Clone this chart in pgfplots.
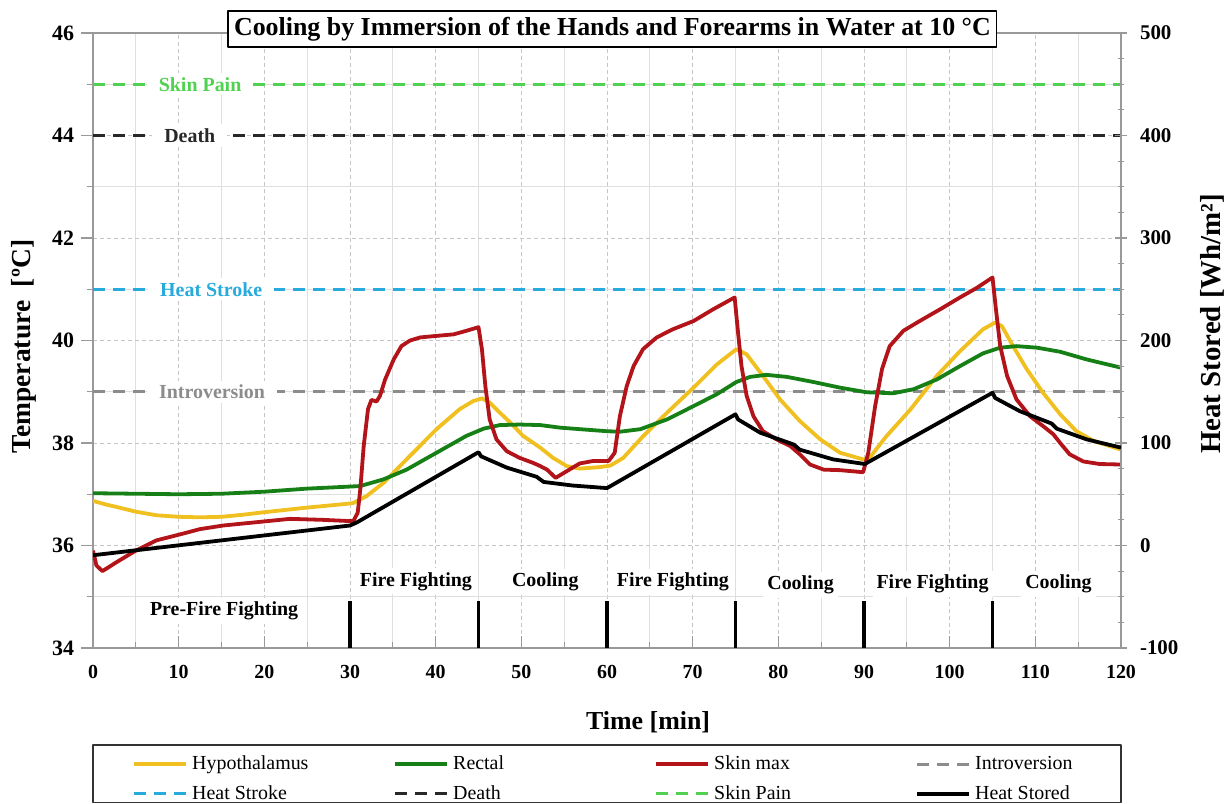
\documentclass[border=0pt]{standalone}
\usepackage{fontspec}
\setmainfont{Liberation Serif}
\usepackage{pgfplots}
\pgfplotsset{compat=1.18}

\definecolor{cHyp}{RGB}{240,192,32}
\definecolor{cRec}{RGB}{22,128,22}
\definecolor{cSkin}{RGB}{178,20,25}
\definecolor{cIntro}{RGB}{140,140,140}
\definecolor{cStroke}{RGB}{40,170,220}
\definecolor{cDeath}{RGB}{40,40,40}
\definecolor{cPain}{RGB}{80,210,80}

\newcommand{\smallbf}{\bfseries\fontsize{10}{12}\selectfont}

\begin{document}
\begin{tikzpicture}
\begin{axis}[
  name=main,
  scale only axis, width=514bp, height=307.5bp,
  xmin=0, xmax=120, ymin=34, ymax=46,
  xtick={0,10,...,120}, minor x tick num=1,
  ytick={34,36,...,46}, minor y tick num=1,
  xtick pos=bottom, ytick pos=left,
  xtick align=inside, ytick align=outside,
  major tick length=6bp, minor tick length=3bp,
  grid=both,
  major grid style={gray!45, line width=0.4bp, dash pattern=on 2bp off 1.5bp},
  minor grid style={gray!25, line width=0.5bp},
  axis line style={gray!80, line width=0.6bp},
  tick style={gray!80, line width=0.6bp},
  /pgf/number format/assume math mode=true,
  xticklabel style={font=\bfseries\fontsize{10}{12}\selectfont, yshift=-5bp},
  yticklabel style={font=\bfseries\fontsize{11}{13}\selectfont},
  xlabel={Time [min]}, ylabel={Temperature~~[ºC]},
  xlabel style={font=\bfseries\fontsize{13}{15}\selectfont, at={(axis description cs:0.54,-0.1203)}, anchor=center},
  ylabel style={font=\bfseries\fontsize{13.8}{16}\selectfont, at={(axis description cs:-0.067,0.49)}, anchor=center},
  clip mode=individual,
  line join=round,
]
% thresholds
\addplot[cPain, line width=1.5bp, dash pattern=on 6bp off 4bp] coordinates {(0,45) (120,45)};
\addplot[cDeath, line width=1.5bp, dash pattern=on 6bp off 4bp] coordinates {(0,44) (120,44)};
\addplot[cStroke, line width=1.5bp, dash pattern=on 6bp off 4bp] coordinates {(0,41) (120,41)};
\addplot[cIntro, line width=1.5bp, dash pattern=on 6bp off 4bp] coordinates {(0,39) (120,39)};

% Hypothalamus
\addplot[cHyp, line width=1.9bp] coordinates {
(0,36.87) (1.5,36.8) (2.8,36.75) (5,36.66) (7.4,36.59) (10,36.56) (12.5,36.55) (15,36.56) (17.5,36.6) (20,36.65) (25,36.74) (28.8,36.8) (30,36.82) (30.4,36.83) (31.9,36.96) (33.9,37.22) (36.6,37.68) (40.1,38.27) (42.8,38.66) (44.4,38.82) (45.4,38.87) (46.3,38.79) (47.5,38.59) (48.7,38.4) (50.2,38.14) (52.2,37.91) (53.7,37.71) (55.3,37.55) (56.8,37.5) (59.2,37.53) (60.4,37.56) (61.9,37.71) (64.2,38.13) (67,38.59) (70.1,39.08) (72.8,39.53) (75.1,39.83) (76.3,39.73) (78.2,39.31) (80.2,38.85) (82.5,38.43) (84.9,38.07) (87.2,37.81) (89.9,37.68) (90.6,37.7) (92.6,38.13) (95.4,38.65) (98.5,39.31) (101.2,39.79) (103.9,40.22) (105.3,40.35) (106.1,40.28) (107.4,39.89) (109,39.44) (110.9,38.98) (112.9,38.56) (114.8,38.23) (116.8,38.04) (120,37.87)
};
% Rectal
\addplot[cRec, line width=1.9bp] coordinates {
(0,37.02) (5,37.01) (10,37.0) (15,37.01) (20,37.05) (25,37.11) (28.8,37.14) (31.2,37.16) (33.9,37.29) (36.6,37.48) (40.1,37.81) (43.6,38.14) (45.6,38.28) (47.5,38.35) (49.8,38.36) (52.2,38.35) (54.5,38.3) (56.8,38.27) (60,38.23) (61.5,38.22) (63.9,38.27) (67,38.46) (70.1,38.72) (72.8,38.95) (75.1,39.19) (76.7,39.29) (78.6,39.33) (81,39.29) (84.1,39.19) (87.2,39.08) (90.3,38.99) (93.4,38.97) (95.8,39.05) (98.5,39.24) (101.2,39.5) (103.9,39.75) (105.9,39.86) (107.8,39.89) (110.2,39.86) (112.9,39.78) (116,39.63) (120,39.47)
};
% Skin max
\addplot[cSkin, line width=1.9bp] coordinates {
(0,35.9) (0.4,35.61) (1.1,35.5) (2.8,35.68) (5,35.9) (7.4,36.1) (10,36.21) (12.5,36.32) (15.2,36.39) (20,36.47) (23,36.52) (26.9,36.5) (29.5,36.48) (30.4,36.48) (30.9,36.64) (31.2,37.09) (31.6,37.94) (32.1,38.66) (32.5,38.84) (33.1,38.81) (33.5,38.92) (34.1,39.24) (35.1,39.63) (36,39.89) (37,40.0) (38.2,40.06) (40.1,40.09) (42.1,40.12) (43.6,40.19) (45,40.26) (45.4,39.83) (45.8,39.11) (46.3,38.46) (47.1,38.07) (48.3,37.84) (49.8,37.71) (51.4,37.61) (52.2,37.55) (53,37.48) (54,37.32) (55.3,37.45) (56.8,37.6) (58.4,37.65) (60.2,37.65) (60.9,37.81) (61.5,38.52) (62.3,39.11) (63.1,39.5) (64.2,39.83) (65.8,40.06) (67.7,40.22) (70.1,40.38) (72.4,40.61) (74.9,40.84) (75.3,40.15) (75.7,39.5) (76.3,38.92) (77.1,38.52) (78.2,38.23) (79.8,38.07) (81.4,37.94) (82.5,37.78) (83.7,37.58) (85.3,37.48) (87.2,37.47) (89.9,37.43) (90.5,37.81) (91.3,38.72) (92.1,39.44) (93,39.89) (94.6,40.19) (96.5,40.38) (98.9,40.61) (101.2,40.84) (103.2,41.03) (105,41.23) (105.4,40.61) (105.9,39.89) (106.7,39.31) (107.8,38.85) (109.4,38.52) (110.9,38.33) (112.1,38.17) (112.9,38.0) (114,37.78) (115.6,37.64) (117.5,37.59) (120,37.58)
};
% phase markers
\addplot[black, line width=1.6bp, unbounded coords=jump] coordinates {
(30,34) (30,34.92) (30,nan) (45,34) (45,34.92) (45,nan) (60,34) (60,34.92) (60,nan)
(75,34) (75,34.92) (75,nan) (90,34) (90,34.92) (90,nan) (105,34) (105,34.92)
};

% threshold labels
\node[fill=white, inner xsep=6bp, inner ysep=2bp, text=cPain, font=\smallbf] at (axis cs:12.5,45) {Skin Pain};
\node[fill=white, inner xsep=6bp, inner ysep=2bp, text=cDeath, font=\smallbf] at (axis cs:11.3,44) {Death};
\node[fill=white, inner xsep=6bp, inner ysep=2bp, text=cStroke, font=\smallbf] at (axis cs:13.8,41) {Heat Stroke};
\node[fill=white, inner xsep=6bp, inner ysep=2bp, text=cIntro, font=\smallbf] at (axis cs:13.9,39) {Introversion};

% phase labels
\node[fill=white, inner sep=2bp, font=\smallbf] at (axis cs:37.7,35.3) {Fire Fighting};
\node[fill=white, inner sep=2bp, font=\smallbf] at (axis cs:52.8,35.29) {Cooling};
\node[fill=white, inner sep=2bp, font=\smallbf] at (axis cs:67.7,35.29) {Fire Fighting};
\node[fill=white, inner sep=2bp, font=\smallbf] at (axis cs:82.6,35.23) {Cooling};
\node[fill=white, inner sep=2bp, font=\smallbf] at (axis cs:98.0,35.25) {Fire Fighting};
\node[fill=white, inner sep=2bp, font=\smallbf] at (axis cs:112.7,35.25) {Cooling};
\node[fill=white, inner sep=2bp, font=\smallbf] at (axis cs:15.3,34.72) {Pre-Fire Fighting};

% title
\node[draw=black, line width=0.6bp, fill=white, inner xsep=3bp, inner ysep=3bp,
  font=\bfseries\fontsize{13}{15}\selectfont] at (axis description cs:0.5053,1.0065)
  {Cooling by Immersion of the Hands and Forearms in Water at 10 °C};
\end{axis}

\begin{axis}[
  scale only axis, width=514bp, height=307.5bp,
  xmin=0, xmax=120, ymin=-100, ymax=500,
  axis x line=none, axis y line*=right,
  ytick={-100,0,...,500}, minor y tick num=3,
  ytick align=center,
  major tick length=6bp, minor tick length=3bp,
  axis line style={gray!80, line width=0.6bp},
  tick style={gray!80, line width=0.6bp},
  /pgf/number format/assume math mode=true,
  yticklabel style={font=\bfseries\fontsize{10.5}{12}\selectfont, xshift=3bp},
  ylabel={Heat Stored [Wh/m²]},
  ylabel style={font=\bfseries\fontsize{14.5}{17}\selectfont, at={(axis description cs:1.0885,0.527)}, anchor=center},
  clip mode=individual,
  line join=round,
  legend columns=4,
  legend image code/.code={\draw[#1] (0bp,0bp) -- (26bp,0bp);},
  legend style={draw=none, fill=none, at={(axis description cs:0.038,-0.168)}, anchor=north west,
    inner sep=0pt, row sep=2.5bp, font=\fontsize{10}{12}\selectfont,
    /tikz/every even column/.append style={column sep=0pt}},
  legend cell align=left,
]
\addlegendimage{cHyp, line width=1.9bp}
\addlegendentry{\makebox[98.6bp][l]{Hypothalamus}}
\addlegendimage{cRec, line width=1.9bp}
\addlegendentry{\makebox[98.6bp][l]{Rectal}}
\addlegendimage{cSkin, line width=1.9bp}
\addlegendentry{\makebox[98.6bp][l]{Skin max}}
\addlegendimage{cIntro, line width=1.5bp, dash pattern=on 6bp off 4bp}
\addlegendentry{\makebox[98.6bp][l]{Introversion}}
\addlegendimage{cStroke, line width=1.5bp, dash pattern=on 6bp off 4bp}
\addlegendentry{\makebox[98.6bp][l]{Heat Stroke}}
\addlegendimage{cDeath, line width=1.5bp, dash pattern=on 6bp off 4bp}
\addlegendentry{\makebox[98.6bp][l]{Death}}
\addlegendimage{cPain, line width=1.5bp, dash pattern=on 6bp off 4bp}
\addlegendentry{\makebox[98.6bp][l]{Skin Pain}}
% Heat stored
\addplot[black, line width=1.9bp] coordinates {
(0,-9.5) (30,19.5) (30.8,22.5) (45,91) (45.3,87) (48.3,76) (51.8,67) (52.6,62) (56,58.5) (60,56) (75,128) (75.3,123) (77.9,110) (81.8,98.5) (82.5,93.5) (86.4,84) (90.1,79.5) (105,149) (105.3,144) (108.2,131) (111.9,119) (112.5,114) (116,103.5) (120,95.5)
};
\addlegendentry{\makebox[98.6bp][l]{Heat Stored}}
\draw[black!80, line width=0.6bp] (axis description cs:0,-0.1577) rectangle (axis description cs:1,-0.2512);
\end{axis}
\pgfresetboundingbox
\path[use as bounding box] (-46.5bp,-78bp) rectangle (569bp,324bp);
\end{tikzpicture}
\end{document}
